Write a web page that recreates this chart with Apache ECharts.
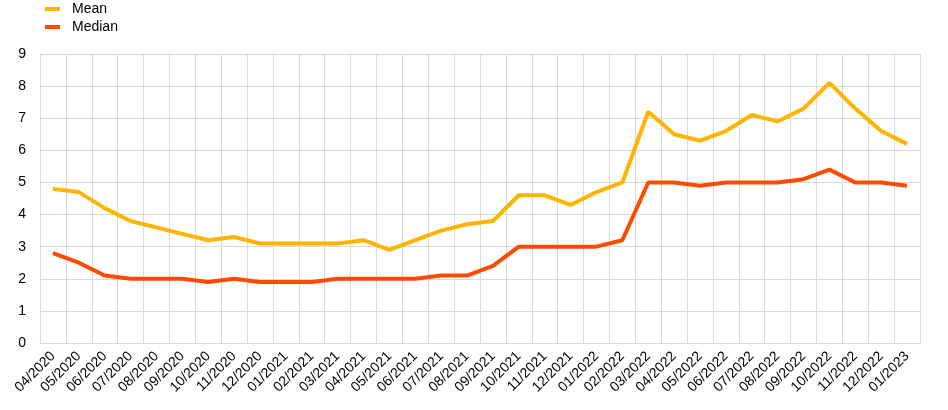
<!DOCTYPE html>
<html><head><meta charset="utf-8">
<script src="https://cdn.jsdelivr.net/npm/echarts@6/dist/echarts.min.js"></script>
<style>html,body{margin:0;padding:0;background:#fff}#c{width:948px;height:410px}</style>
</head><body><div id="c"></div>
<script>
const categories = ["04/2020","05/2020","06/2020","07/2020","08/2020","09/2020","10/2020","11/2020","12/2020",
"01/2021","02/2021","03/2021","04/2021","05/2021","06/2021","07/2021","08/2021","09/2021","10/2021","11/2021","12/2021",
"01/2022","02/2022","03/2022","04/2022","05/2022","06/2022","07/2022","08/2022","09/2022","10/2022","11/2022","12/2022","01/2023"];
const meanValues = [4.8,4.7,4.2,3.8,3.6,3.4,3.2,3.3,3.1,3.1,3.1,3.1,3.2,2.9,3.2,3.5,3.7,3.8,4.6,4.6,4.3,4.7,5.0,7.2,6.5,6.3,6.6,7.1,6.9,7.3,8.1,7.3,6.6,6.2];
const medianValues = [2.8,2.5,2.1,2.0,2.0,2.0,1.9,2.0,1.9,1.9,1.9,2.0,2.0,2.0,2.0,2.1,2.1,2.4,3.0,3.0,3.0,3.0,3.2,5.0,5.0,4.9,5.0,5.0,5.0,5.1,5.4,5.0,5.0,4.9];
const yTicks = {min:0, max:9, interval:1};

const chart = echarts.init(document.getElementById('c'), null, {renderer:'canvas'});
const gridColor = '#d9d9d9';
chart.setOption({
  animation:false,
  textStyle:{fontFamily:'Liberation Sans, Arial, sans-serif'},
  legend:{
    left:45, top:2, orient:'vertical', itemGap:4, padding:0,
    itemWidth:15, itemHeight:4, icon:'rect',
    textStyle:{fontSize:14, color:'#000', fontFamily:'Liberation Sans, Arial, sans-serif', padding:[0,0,0,7]},
    data:['Mean','Median']
  },
  grid:{left:40, right:28, top:54, bottom:67},
  xAxis:{
    type:'category', data:categories, boundaryGap:true,
    axisLine:{show:true, lineStyle:{color:gridColor}},
    axisTick:{show:false},
    splitLine:{show:true, interval:0, lineStyle:{color:gridColor}},
    axisLabel:{interval:0, rotate:45, fontSize:14, color:'#000', margin:11}
  },
  yAxis:{
    type:'value', min:yTicks.min, max:yTicks.max, interval:yTicks.interval,
    axisLine:{show:false}, axisTick:{show:false},
    splitLine:{show:true, lineStyle:{color:gridColor}},
    axisLabel:{fontSize:14, color:'#000', margin:14}
  },
  series:[
    {name:'Mean', type:'line', data:meanValues, showSymbol:false, symbol:'none',
     lineStyle:{width:4, color:'#FFB400'}, itemStyle:{color:'#FFB400'}},
    {name:'Median', type:'line', data:medianValues, showSymbol:false, symbol:'none',
     lineStyle:{width:4, color:'#FF4B00'}, itemStyle:{color:'#FF4B00'}}
  ]
});
</script></body></html>
